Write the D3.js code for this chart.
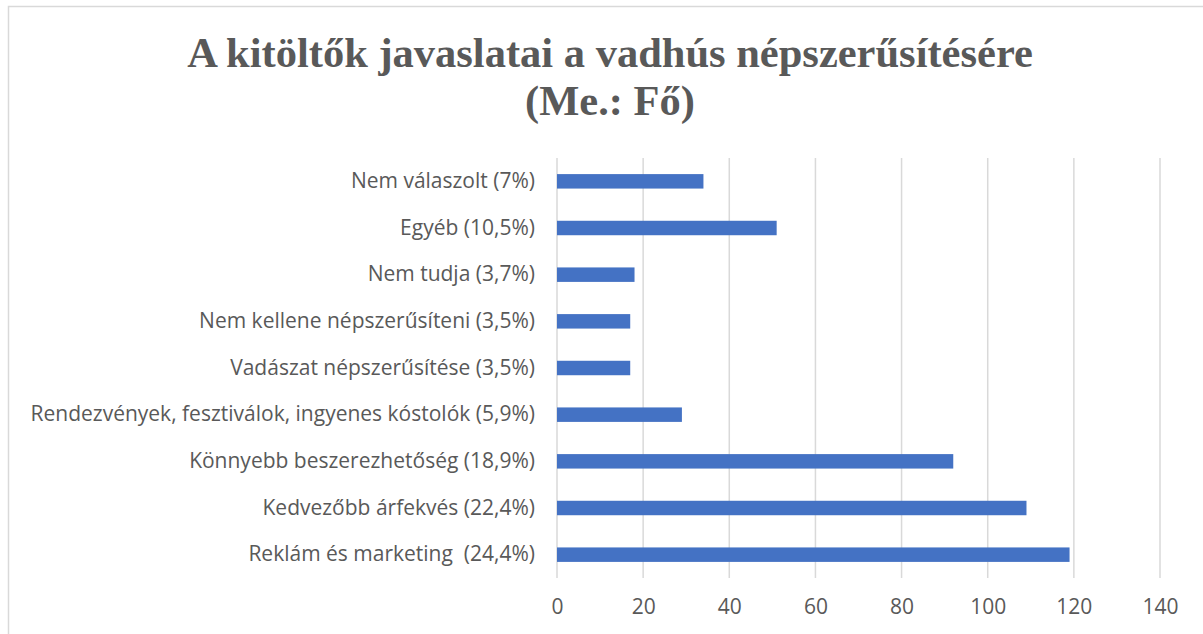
<!DOCTYPE html>
<html lang="hu">
<head>
<meta charset="UTF-8">
<title>Vadhús</title>
<script src="https://d3js.org/d3.v7.min.js"></script>
<style>
  body { margin: 0; background: #fff; }
  text { fill: #595959; white-space: pre; }
</style>
</head>
<body>
<div id="chart"></div>
<script>
  // categories top -> bottom, as in the picture
  const categories = [
    "Nem válaszolt (7%)",
    "Egyéb (10,5%)",
    "Nem tudja (3,7%)",
    "Nem kellene népszerűsíteni (3,5%)",
    "Vadászat népszerűsítése (3,5%)",
    "Rendezvények, fesztiválok, ingyenes kóstolók (5,9%)",
    "Könnyebb beszerezhetőség (18,9%)",
    "Kedvezőbb árfekvés (22,4%)",
    "Reklám és marketing  (24,4%)"
  ];
  const values = [34, 51, 18, 17, 17, 29, 92, 109, 119];
  const xTicks = [0, 20, 40, 60, 80, 100, 120, 140];
  const titleLines = ["A kitöltők javaslatai a vadhús népszerűsítésére", "(Me.: Fő)"];

  const width = 1203, height = 634;
  const plotLeft = 557, plotRight = 1160, plotTop = 158, plotBottom = 578;

  const svg = d3.select("#chart").append("svg")
    .attr("width", width).attr("height", height);

  // outer frame
  svg.append("rect")
    .attr("x", 8.5).attr("y", 6.5)
    .attr("width", 1210).attr("height", 700)
    .attr("fill", "none").attr("stroke", "#d9d9d9").attr("stroke-width", 1.5);

  const x = d3.scaleLinear().domain([0, 140]).range([plotLeft, plotRight]);
  const y = d3.scaleBand().domain(categories).range([plotTop, plotBottom]).paddingInner(0.69).paddingOuter(0.345);

  // gridlines
  svg.append("g").selectAll("line")
    .data(xTicks)
    .join("line")
    .attr("x1", d => x(d)).attr("x2", d => x(d))
    .attr("y1", plotTop).attr("y2", plotBottom)
    .attr("stroke", "#d9d9d9").attr("stroke-width", 1.5);

  // bars
  svg.append("g").selectAll("rect")
    .data(values)
    .join("rect")
    .attr("x", x(0))
    .attr("y", (d, i) => y(categories[i]))
    .attr("width", d => x(d) - x(0))
    .attr("height", y.bandwidth())
    .attr("fill", "#4472c4");

  // y labels
  const yAxis = d3.axisLeft(y).tickSize(0).tickPadding(22);
  const gy = svg.append("g").attr("transform", `translate(${plotLeft},0)`).call(yAxis);
  gy.select(".domain").remove();
  gy.selectAll("text")
    .style("font-family", "'Open Sans', sans-serif")
    .style("font-size", "21px")
    .style("fill", "#595959");

  // x axis labels
  const xAxis = d3.axisBottom(x).tickValues(xTicks).tickSize(0).tickPadding(21);
  const gx = svg.append("g").attr("transform", `translate(0,${plotBottom})`).call(xAxis);
  gx.select(".domain").remove();
  gx.selectAll("text")
    .style("font-family", "'Open Sans', sans-serif")
    .style("font-size", "21px")
    .style("fill", "#595959");

  // title
  svg.append("g").selectAll("text")
    .data(titleLines)
    .join("text")
    .attr("x", 610)
    .attr("y", (d, i) => 67 + i * 48)
    .attr("text-anchor", "middle")
    .style("font-family", "'Liberation Serif', 'Times New Roman', serif")
    .style("font-weight", "bold")
    .style("font-size", "42.5px")
    .style("fill", "#595959")
    .text(d => d);
</script>
</body>
</html>
